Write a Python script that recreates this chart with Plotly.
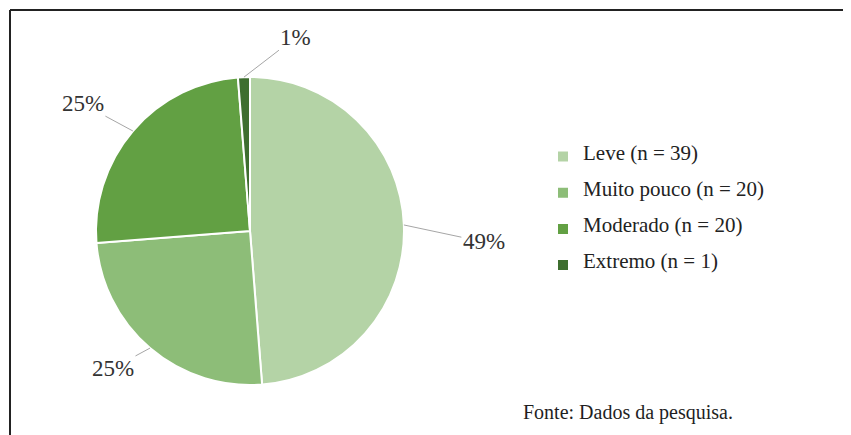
import math
import plotly.graph_objects as go

labels = ["Leve (n = 39)", "Muito pouco (n = 20)", "Moderado (n = 20)", "Extremo (n = 1)"]
values = [39, 20, 20, 1]
colors = ["#b4d3a6", "#8dbd78", "#62a043", "#3e6e2f"]
source_note = "Fonte: Dados da pesquisa."

W, H = 851, 435
OFF = 8  # page body margin
cx_px, cy_px, r_px = 250 - OFF, 231 - OFF, 154  # pie centre / radius in pixels (top-left origin)

font_family = "Times New Roman, Liberation Serif, serif"

fig = go.Figure(go.Pie(
    labels=[f"<br><span style='font-size:21px'>{l}</span><br>" for l in labels],
    values=values,
    sort=False,
    direction="clockwise",
    rotation=0,
    marker=dict(colors=colors, line=dict(color="white", width=2)),
    textinfo="none",
    hoverinfo="label+percent",
    domain=dict(x=[(cx_px - r_px) / W, (cx_px + r_px) / W],
                y=[(H - cy_px - r_px) / H, (H - cy_px + r_px) / H]),
))

# label offsets (pixels) from slice edge to the text centre
offsets = [(80, 17), (-37, 20), (-50, -27), (52, -40)]
total = sum(values)
cum = 0
annotations = []
for v, (ax, ay) in zip(values, offsets):
    mid = (cum + v / 2) / total * 2 * math.pi
    cum += v
    px = cx_px + r_px * math.sin(mid)
    py = cy_px - r_px * math.cos(mid)
    pct = round(v / total * 100)
    annotations.append(dict(
        x=px / W, y=(H - py) / H, xref="paper", yref="paper",
        text=f"{pct}%", showarrow=True, arrowhead=0, arrowwidth=1,
        arrowcolor="#a6a6a6", ax=ax, ay=ay, standoff=0,
        font=dict(family=font_family, size=23, color="#333333"),
    ))

annotations.append(dict(
    x=(521 - OFF) / W, y=(H - 412 + OFF) / H, xref="paper", yref="paper",
    xanchor="left", yanchor="middle", showarrow=False,
    text=source_note, font=dict(family=font_family, size=20, color="#1f1f1f"),
))

fig.update_layout(
    width=W, height=H,
    margin=dict(l=0, r=0, t=0, b=0),
    paper_bgcolor="white", plot_bgcolor="white",
    font=dict(family=font_family),
    showlegend=True,
    legend=dict(x=(543 - OFF) / W, y=(H - 211 + OFF) / H, xanchor="left", yanchor="middle",
                font=dict(family=font_family, size=8.5, color="#222222"),
                bgcolor="rgba(0,0,0,0)"),
    annotations=annotations,
    shapes=[
        dict(type="line", xref="paper", yref="paper", x0=(10 - OFF) / W, x1=1,
             y0=(H - 10 + OFF) / H, y1=(H - 10 + OFF) / H,
             line=dict(color="#222222", width=2)),
        dict(type="line", xref="paper", yref="paper", x0=(10 - OFF) / W, x1=(10 - OFF) / W,
             y0=0, y1=(H - 10 + OFF) / H,
             line=dict(color="#222222", width=2)),
    ],
)

fig.write_html("out.html")
